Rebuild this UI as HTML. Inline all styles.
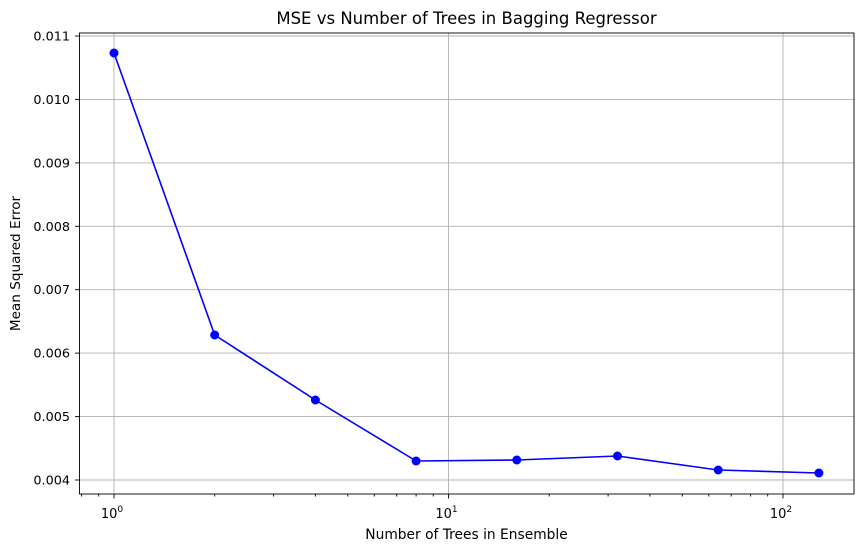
<!DOCTYPE html>
<html><head><meta charset="utf-8"><style>body{margin:0;background:#fff}svg{display:block}text{font-family:"DejaVu Sans","Liberation Sans",sans-serif;fill:#000}</style></head><body>
<svg width="863" height="552" viewBox="0 0 863 552">
<rect width="863" height="552" fill="#fff"/>
<g stroke="#b0b0b0" stroke-width="0.9">
<line x1="114" y1="33" x2="114" y2="494"/><line x1="448.5" y1="33" x2="448.5" y2="494"/><line x1="783" y1="33" x2="783" y2="494"/>
<line x1="79.5" y1="36" x2="854" y2="36"/><line x1="79.5" y1="99.4" x2="854" y2="99.4"/><line x1="79.5" y1="162.9" x2="854" y2="162.9"/><line x1="79.5" y1="226.3" x2="854" y2="226.3"/><line x1="79.5" y1="289.7" x2="854" y2="289.7"/><line x1="79.5" y1="353.1" x2="854" y2="353.1"/><line x1="79.5" y1="416.6" x2="854" y2="416.6"/><line x1="79.5" y1="480" x2="854" y2="480"/>
</g>
<g stroke="#000" stroke-width="0.9">
<line x1="114" y1="494" x2="114" y2="498.5"/><line x1="448.5" y1="494" x2="448.5" y2="498.5"/><line x1="783" y1="494" x2="783" y2="498.5"/>
<line x1="81.6" y1="494" x2="81.6" y2="496.5"/><line x1="98.7" y1="494" x2="98.7" y2="496.5"/>
<line x1="214.7" y1="494" x2="214.7" y2="496.5"/><line x1="273.6" y1="494" x2="273.6" y2="496.5"/><line x1="315.4" y1="494" x2="315.4" y2="496.5"/><line x1="347.8" y1="494" x2="347.8" y2="496.5"/><line x1="374.3" y1="494" x2="374.3" y2="496.5"/><line x1="396.7" y1="494" x2="396.7" y2="496.5"/><line x1="416.1" y1="494" x2="416.1" y2="496.5"/><line x1="433.2" y1="494" x2="433.2" y2="496.5"/>
<line x1="549.2" y1="494" x2="549.2" y2="496.5"/><line x1="608.1" y1="494" x2="608.1" y2="496.5"/><line x1="649.9" y1="494" x2="649.9" y2="496.5"/><line x1="682.3" y1="494" x2="682.3" y2="496.5"/><line x1="708.8" y1="494" x2="708.8" y2="496.5"/><line x1="731.2" y1="494" x2="731.2" y2="496.5"/><line x1="750.6" y1="494" x2="750.6" y2="496.5"/><line x1="767.7" y1="494" x2="767.7" y2="496.5"/>
<line x1="75" y1="36" x2="79.5" y2="36"/><line x1="75" y1="99.4" x2="79.5" y2="99.4"/><line x1="75" y1="162.9" x2="79.5" y2="162.9"/><line x1="75" y1="226.3" x2="79.5" y2="226.3"/><line x1="75" y1="289.7" x2="79.5" y2="289.7"/><line x1="75" y1="353.1" x2="79.5" y2="353.1"/><line x1="75" y1="416.6" x2="79.5" y2="416.6"/><line x1="75" y1="480" x2="79.5" y2="480"/>
</g>
<polyline fill="none" stroke="#0000ff" stroke-width="1.6" points="114,53 214.7,335 315.4,400 416.1,461 516.8,460 617.5,456 718.2,470 818.9,473"/>
<g fill="#0000ff"><circle cx="114" cy="53" r="4.5"/><circle cx="214.7" cy="335" r="4.5"/><circle cx="315.4" cy="400" r="4.5"/><circle cx="416.1" cy="461" r="4.5"/><circle cx="516.8" cy="460" r="4.5"/><circle cx="617.5" cy="456" r="4.5"/><circle cx="718.2" cy="470" r="4.5"/><circle cx="818.9" cy="473" r="4.5"/></g>
<rect x="79.5" y="33" width="774.5" height="461" fill="none" stroke="#000" stroke-width="0.9"/>
<g font-size="12.8" text-anchor="end">
<text x="70" y="40.5">0.011</text><text x="70" y="104">0.010</text><text x="70" y="167.4">0.009</text><text x="70" y="230.8">0.008</text><text x="70" y="294.2">0.007</text><text x="70" y="357.6">0.006</text><text x="70" y="421.1">0.005</text><text x="70" y="484.5">0.004</text>
</g>
<g font-size="13" text-anchor="middle">
<text x="112" y="518">10<tspan font-size="9" dy="-6">0</tspan></text>
<text x="446.5" y="518">10<tspan font-size="9" dy="-6">1</tspan></text>
<text x="781" y="518">10<tspan font-size="9" dy="-6">2</tspan></text>
<text x="466.5" y="539" font-size="13.8">Number of Trees in Ensemble</text>
<text transform="translate(20,263.5) rotate(-90)" font-size="13.6">Mean Squared Error</text>
<text x="466.5" y="24" font-size="16.5">MSE vs Number of Trees in Bagging Regressor</text>
</g>
</svg>
</body></html>
